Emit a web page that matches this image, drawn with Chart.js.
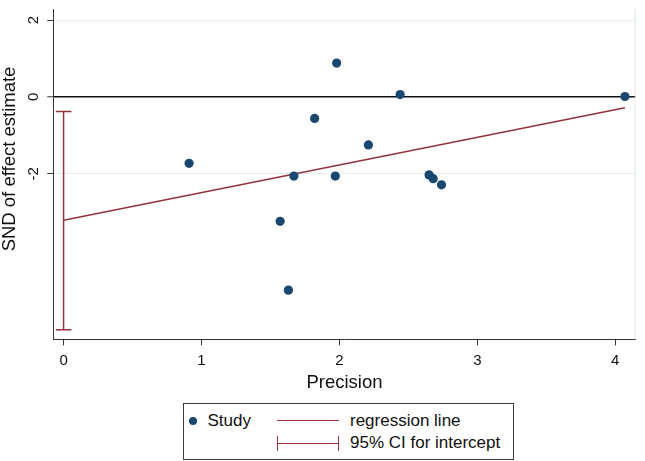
<!DOCTYPE html>
<html>
<head>
<meta charset="utf-8">
<script src="https://cdn.jsdelivr.net/npm/chart.js@4.4.1/dist/chart.umd.min.js"></script>
<style>
  html, body { margin: 0; padding: 0; background: #fff; }
  #wrap { position: relative; width: 645px; height: 461px; }
  #legend { position: absolute; left: 182.5px; top: 403px; width: 331px; height: 57px;
            border: 1px solid #3a3a3a; box-sizing: border-box; background: #fff; }
  .lg { position: absolute; font: 17px "Liberation Sans", Arial, sans-serif; color: #111;
        line-height: 20px; white-space: nowrap; }
  .mk { position: absolute; background: #90353b; }
  .dot { position: absolute; width: 8px; height: 8px; border-radius: 50%; background: #1a476f; }
</style>
</head>
<body>
<div id="wrap">
  <canvas id="egger-chart"></canvas>
  <div id="legend">
    <div class="dot" style="left:5.8px; top:12.5px;"></div>
    <div class="lg" style="left:24px; top:6.5px;">Study</div>
    <div class="mk" style="left:93.2px; top:15.8px; width:62.6px; height:1.5px;"></div>
    <div class="lg" style="left:166.5px; top:6.5px;">regression line</div>
    <div class="mk" style="left:93.2px; top:38.6px; width:62.6px; height:1.5px;"></div>
    <div class="mk" style="left:93.2px; top:32px; width:1.5px; height:14.7px;"></div>
    <div class="mk" style="left:154.3px; top:32px; width:1.5px; height:14.7px;"></div>
    <div class="lg" style="left:166.5px; top:29.3px;">95% CI for intercept</div>
  </div>
</div>
<script>
// 数据
const precision = [0.91, 1.57, 1.63, 1.67, 1.82, 1.97, 1.98, 2.21, 2.44, 2.65, 2.68, 2.74, 4.07];
const snd = [-1.73, -3.24, -5.03, -2.06, -0.56, -2.06, 0.88, -1.25, 0.06, -2.03, -2.13, -2.29, 0.01];
const regX = [0, 4.07];
const regY = [-3.21, -0.28];
const ciX = [0, 0];
const ciY = [-0.38, -6.06];
const xTicks = [0, 1, 2, 3, 4];
const yTicks = [-2, 0, 2];

const fontFamily = '"Liberation Sans", Arial, sans-serif';
const maroon = '#90353b';

// y 轴竖排刻度和标题
const yAxisText = {
    id: 'yAxisText',
    beforeDatasetsDraw(chart) {
        const c = chart.ctx;
        const a = chart.chartArea;
        c.save();
        c.strokeStyle = '#dde9eb';
        c.lineWidth = 1;
        c.beginPath();
        c.moveTo(a.right - 0.5, a.top);
        c.lineTo(a.right - 0.5, a.bottom);
        c.stroke();
        c.restore();
    },
    afterDraw(chart) {
        const c = chart.ctx;
        const y = chart.scales.y;
        c.save();
        c.fillStyle = '#111';
        c.textAlign = 'center';
        c.textBaseline = 'middle';
        c.font = '15px ' + fontFamily;
        yTicks.forEach(v => {
            c.save();
            c.translate(33.5, y.getPixelForValue(v));
            c.rotate(-Math.PI / 2);
            c.fillText(String(v), 0, 0);
            c.restore();
        });
        c.font = '18.5px ' + fontFamily;
        c.translate(10, 159);
        c.rotate(-Math.PI / 2);
        c.fillText('SND of effect estimate', 0, 0);
        c.restore();
    }
};

const ctx = document.getElementById('egger-chart').getContext('2d');
const eggerChart = new Chart(ctx, {
    type: 'scatter',
    data: {
        datasets: [
            {
                label: 'Study',
                data: precision.map((x, i) => ({ x: x, y: snd[i] })),
                pointRadius: 4.6,
                pointBackgroundColor: '#1a476f',
                pointBorderColor: '#1a476f',
                pointBorderWidth: 0
            },
            {
                label: 'regression line',
                type: 'line',
                data: regX.map((x, i) => ({ x: x, y: regY[i] })),
                borderColor: maroon,
                borderWidth: 1.5,
                pointRadius: 0,
                fill: false
            },
            {
                label: '95% CI for intercept',
                type: 'line',
                data: ciX.map((x, i) => ({ x: x, y: ciY[i] })),
                borderColor: maroon,
                borderWidth: 1.5,
                pointStyle: 'line',
                pointRadius: 7.8,
                pointBorderColor: maroon,
                pointBorderWidth: 1.5,
                fill: false
            }
        ]
    },
    options: {
        responsive: true,
        maintainAspectRatio: false,
        animation: false,
        layout: { padding: { top: 1, right: 2.3, left: 0, bottom: 0 } },
        plugins: {
            legend: { display: false },
            tooltip: { enabled: false }
        },
        scales: {
            x: {
                type: 'linear',
                min: -0.0745,
                max: 4.148,
                afterBuildTicks: s => { s.ticks = xTicks.map(v => ({ value: v })); },
                afterFit: s => { s.height = 121.7; },
                grid: { drawOnChartArea: false, drawTicks: true, tickLength: 6, tickColor: '#333', tickWidth: 1 },
                border: { color: '#333', width: 1 },
                ticks: { color: '#111', font: { size: 15, family: fontFamily }, padding: 6.2, maxRotation: 0, autoSkip: false },
                title: {
                    display: true,
                    text: 'Precision',
                    color: '#111',
                    font: { size: 18.5, family: fontFamily },
                    padding: { top: 0, bottom: 66.9 }
                }
            },
            y: {
                type: 'linear',
                min: -6.31,
                max: 2.28,
                afterBuildTicks: s => { s.ticks = yTicks.map(v => ({ value: v })); },
                afterFit: s => { s.width = 53.3; },
                grid: {
                    color: c => (c.tick && c.tick.value === 0) ? '#111' : '#e2edef',
                    lineWidth: c => (c.tick && c.tick.value === 0) ? 1.5 : 1,
                    drawTicks: true,
                    tickLength: 6,
                    tickColor: '#333',
                    tickWidth: 1
                },
                border: { color: '#333', width: 1 },
                ticks: { display: false }
            }
        }
    },
    plugins: [yAxisText]
});
</script>
</body>
</html>
